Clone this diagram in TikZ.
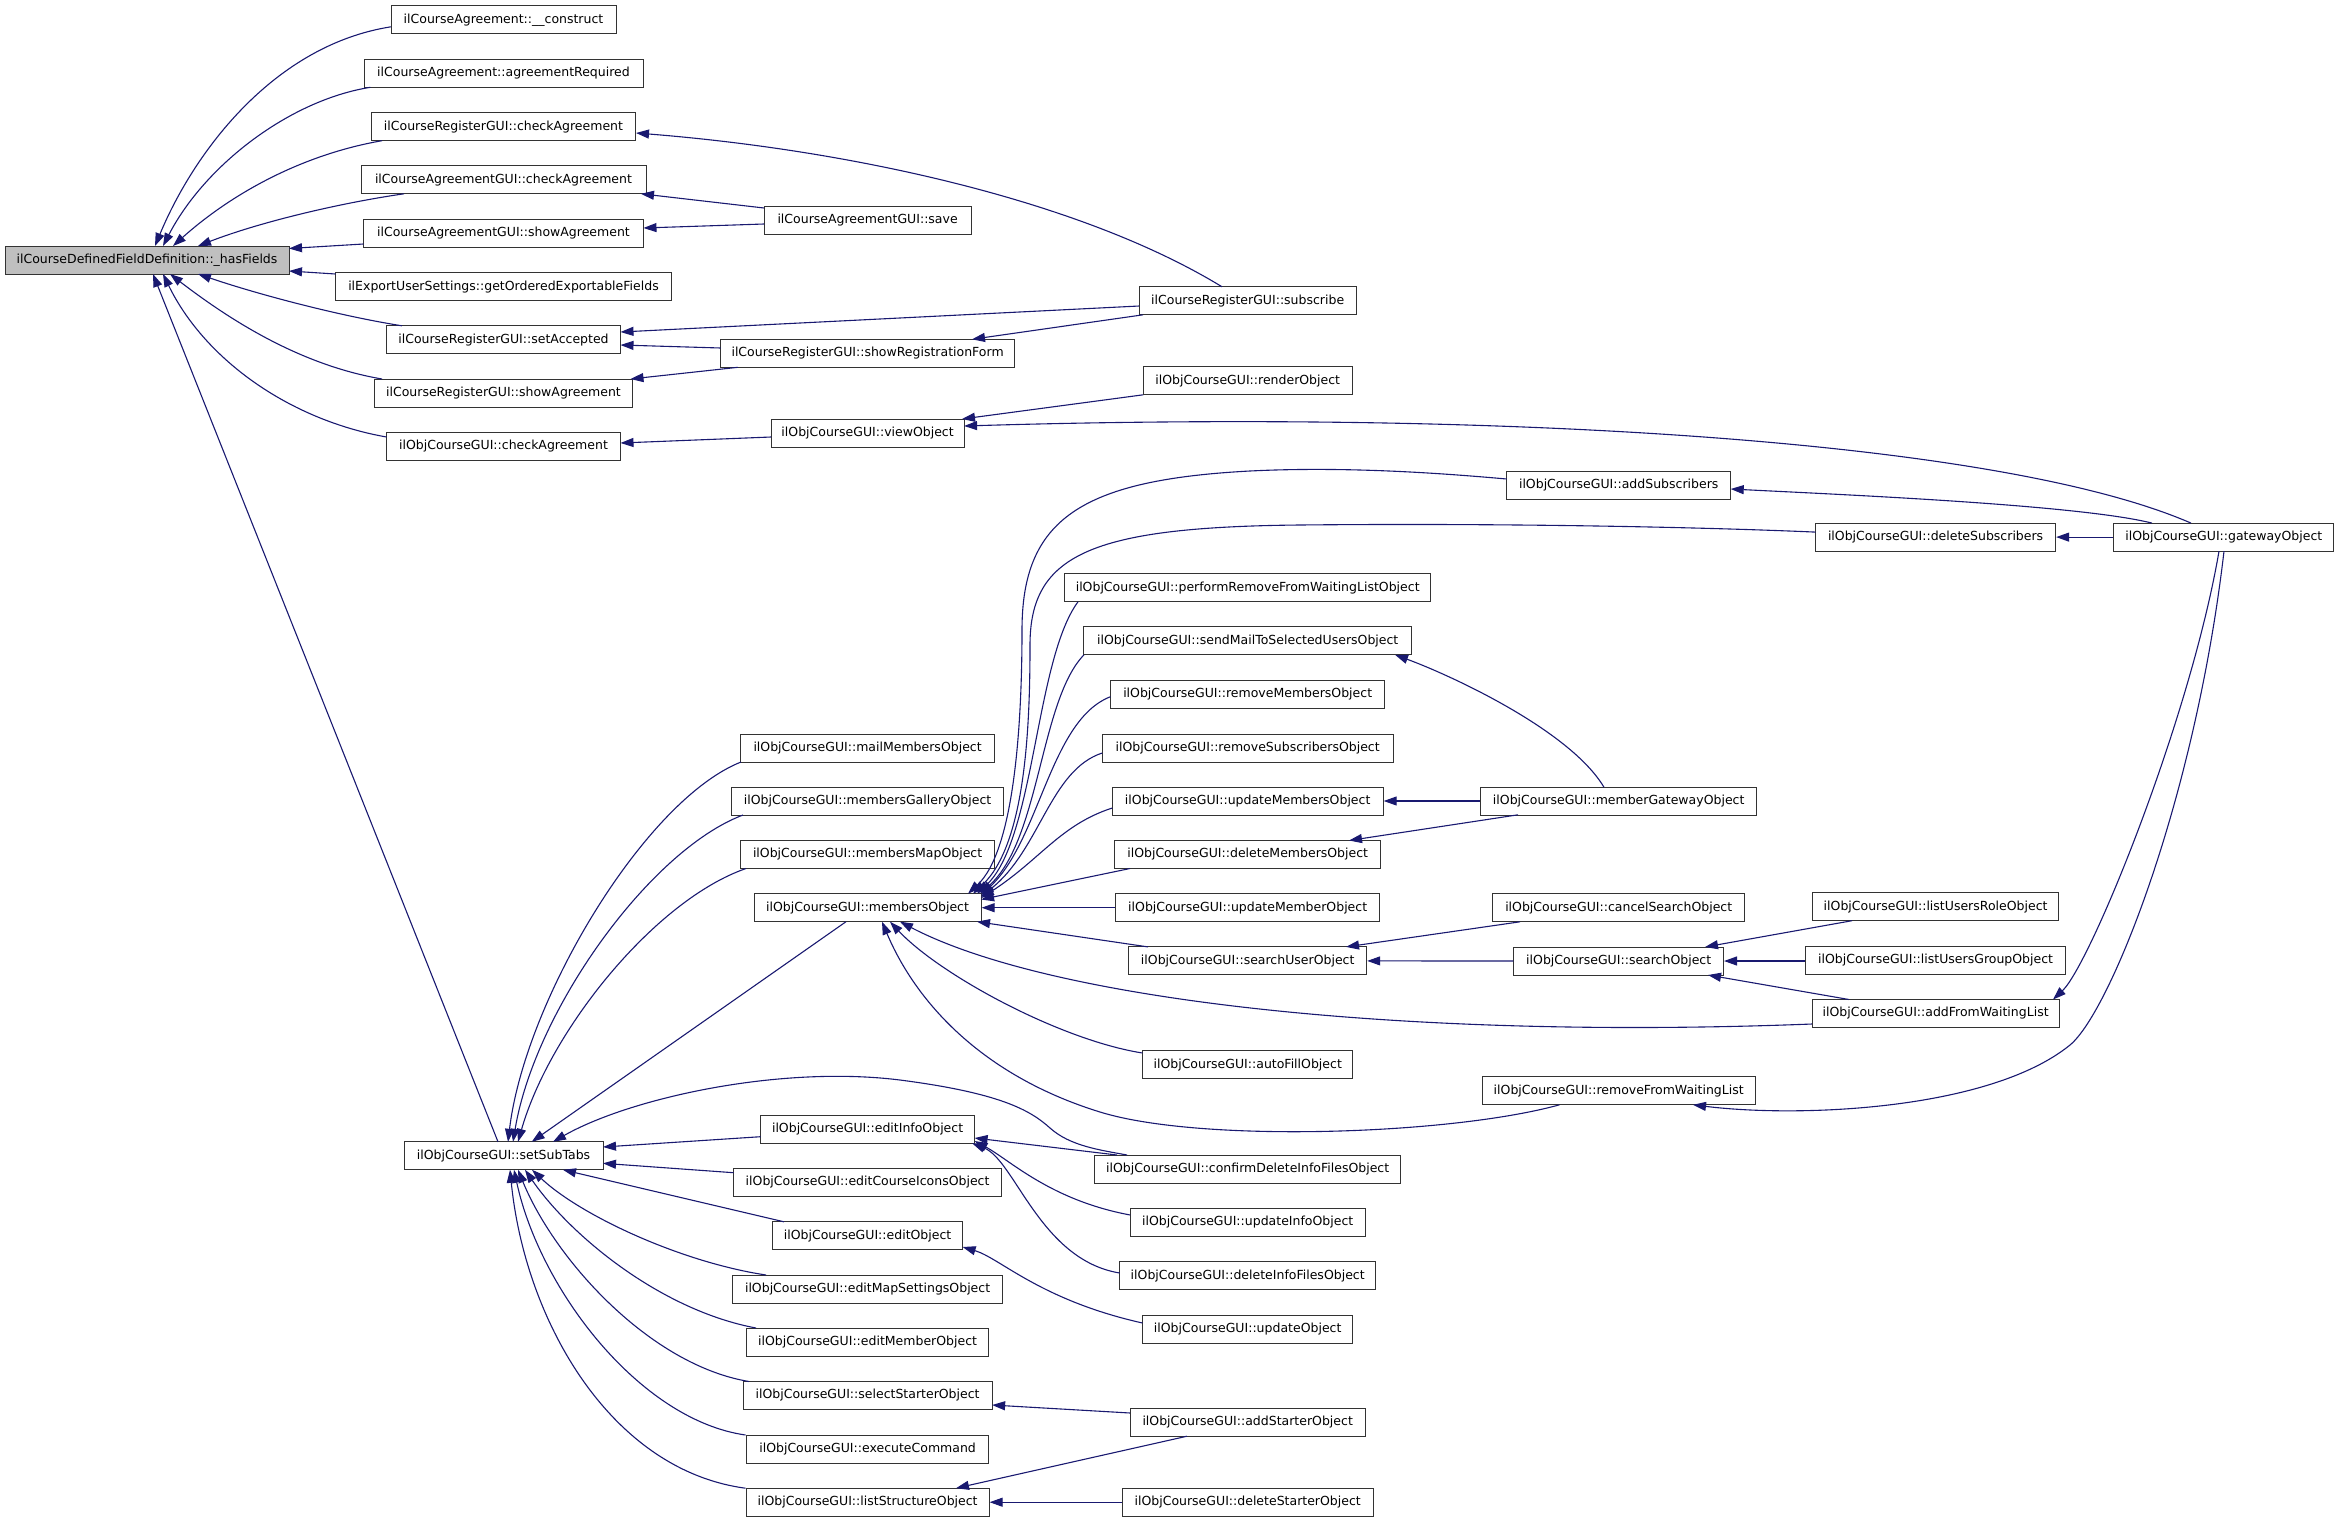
\documentclass[tikz,border=0pt]{standalone}
\usepackage{fontspec}
\setmainfont{DejaVu Sans}
\usetikzlibrary{arrows.meta}
\definecolor{edgecol}{HTML}{191970}
\definecolor{hfgray}{HTML}{BFBFBF}
\begin{document}
\begin{tikzpicture}[x=1pt,y=-1pt,
  fn/.style={draw=black!80, line width=1pt, fill=white, minimum height=28pt, inner sep=0pt,
    font=\fontsize{12.5}{15}\selectfont, text height=9.3pt, text depth=2.6pt},
  edge/.style={draw=edgecol, line width=1.1pt, {Triangle[length=13pt,width=9pt]}-}]
\useasboundingbox (0,0) rectangle (2339,1523);

% ---------- nodes ----------
\node[fn, minimum width=284pt, fill=hfgray] (hf) at (147,260) {ilCourseDefinedFieldDefinition::\_hasFields};

\node[fn, minimum width=225pt] (c1) at (503.5,19.8) {ilCourseAgreement::\_\_construct};
\node[fn, minimum width=279pt] (c2) at (503.5,73.3) {ilCourseAgreement::agreementRequired};
\node[fn, minimum width=264pt] (c3) at (503.5,126.7) {ilCourseRegisterGUI::checkAgreement};
\node[fn, minimum width=285pt] (c4) at (503.5,179.8) {ilCourseAgreementGUI::checkAgreement};
\node[fn, minimum width=280pt] (c5) at (503.5,233.2) {ilCourseAgreementGUI::showAgreement};
\node[fn, minimum width=336pt] (c6) at (503.5,286.7) {ilExportUserSettings::getOrderedExportableFields};
\node[fn, minimum width=234pt] (c7) at (503.5,339.8) {ilCourseRegisterGUI::setAccepted};
\node[fn, minimum width=258pt] (c8) at (503.5,393) {ilCourseRegisterGUI::showAgreement};
\node[fn, minimum width=234pt] (c9) at (503.5,446.3) {ilObjCourseGUI::checkAgreement};
\node[fn, minimum width=199pt] (sst) at (503.5,1155.8) {ilObjCourseGUI::setSubTabs};

\node[fn, minimum width=207pt] (save) at (867.6,220) {ilCourseAgreementGUI::save};
\node[fn, minimum width=294pt] (srf) at (867.6,353.3) {ilCourseRegisterGUI::showRegistrationForm};
\node[fn, minimum width=193pt] (vo) at (867.6,433) {ilObjCourseGUI::viewObject};
\node[fn, minimum width=254pt] (mm) at (867.6,748) {ilObjCourseGUI::mailMembersObject};
\node[fn, minimum width=271.5pt] (mg) at (867.6,801) {ilObjCourseGUI::membersGalleryObject};
\node[fn, minimum width=254pt] (mp) at (867.6,854.5) {ilObjCourseGUI::membersMapObject};
\node[fn, minimum width=227pt] (mo) at (867.6,907.7) {ilObjCourseGUI::membersObject};
\node[fn, minimum width=214pt] (ei) at (867.6,1129.2) {ilObjCourseGUI::editInfoObject};
\node[fn, minimum width=268pt] (eci) at (867.6,1182.5) {ilObjCourseGUI::editCourseIconsObject};
\node[fn, minimum width=190pt] (eo) at (867.6,1235.8) {ilObjCourseGUI::editObject};
\node[fn, minimum width=270pt] (ems) at (867.6,1289) {ilObjCourseGUI::editMapSettingsObject};
\node[fn, minimum width=242pt] (em) at (867.6,1342) {ilObjCourseGUI::editMemberObject};
\node[fn, minimum width=249pt] (ss) at (867.6,1395.5) {ilObjCourseGUI::selectStarterObject};
\node[fn, minimum width=242pt] (ec) at (867.6,1449) {ilObjCourseGUI::executeCommand};
\node[fn, minimum width=243pt] (ls) at (867.6,1502.2) {ilObjCourseGUI::listStructureObject};

\node[fn, minimum width=217pt] (sub) at (1247.7,300.8) {ilCourseRegisterGUI::subscribe};
\node[fn, minimum width=209pt] (ro) at (1247.7,380.8) {ilObjCourseGUI::renderObject};
\node[fn, minimum width=366pt] (pr) at (1247.7,587.8) {ilObjCourseGUI::performRemoveFromWaitingListObject};
\node[fn, minimum width=328pt] (sm) at (1247.7,640.8) {ilObjCourseGUI::sendMailToSelectedUsersObject};
\node[fn, minimum width=274.5pt] (rm) at (1247.7,694.4) {ilObjCourseGUI::removeMembersObject};
\node[fn, minimum width=291pt] (rs) at (1247.7,748) {ilObjCourseGUI::removeSubscribersObject};
\node[fn, minimum width=271pt] (ums) at (1247.7,801) {ilObjCourseGUI::updateMembersObject};
\node[fn, minimum width=266.5pt] (dm) at (1247.7,854.5) {ilObjCourseGUI::deleteMembersObject};
\node[fn, minimum width=264pt] (ume) at (1247.7,907.7) {ilObjCourseGUI::updateMemberObject};
\node[fn, minimum width=238pt] (su) at (1247.7,960.9) {ilObjCourseGUI::searchUserObject};
\node[fn, minimum width=210.5pt] (af) at (1247.7,1064.8) {ilObjCourseGUI::autoFillObject};
\node[fn, minimum width=306pt] (cd) at (1247.7,1169) {ilObjCourseGUI::confirmDeleteInfoFilesObject};
\node[fn, minimum width=235pt] (ui) at (1247.7,1222.5) {ilObjCourseGUI::updateInfoObject};
\node[fn, minimum width=256pt] (dif) at (1247.7,1275.8) {ilObjCourseGUI::deleteInfoFilesObject};
\node[fn, minimum width=210.5pt] (uo) at (1247.7,1329) {ilObjCourseGUI::updateObject};
\node[fn, minimum width=235pt] (ast) at (1247.7,1422.2) {ilObjCourseGUI::addStarterObject};
\node[fn, minimum width=251pt] (dst) at (1247.7,1502.2) {ilObjCourseGUI::deleteStarterObject};

\node[fn, minimum width=224pt] (as) at (1618.7,485) {ilObjCourseGUI::addSubscribers};
\node[fn, minimum width=275.5pt] (mgw) at (1618.7,801) {ilObjCourseGUI::memberGatewayObject};
\node[fn, minimum width=251.5pt] (cs) at (1618.7,907.8) {ilObjCourseGUI::cancelSearchObject};
\node[fn, minimum width=209.6pt] (so) at (1618.7,961) {ilObjCourseGUI::searchObject};
\node[fn, minimum width=273pt] (rfw) at (1618.7,1090.8) {ilObjCourseGUI::removeFromWaitingList};

\node[fn, minimum width=240pt] (ds) at (1935.6,537.1) {ilObjCourseGUI::deleteSubscribers};
\node[fn, minimum width=246pt] (lur) at (1935.6,906.7) {ilObjCourseGUI::listUsersRoleObject};
\node[fn, minimum width=260pt] (lug) at (1935.6,960) {ilObjCourseGUI::listUsersGroupObject};
\node[fn, minimum width=247pt] (afw) at (1935.6,1013.5) {ilObjCourseGUI::addFromWaitingList};

\node[fn, minimum width=220pt] (gw) at (2223.8,537.1) {ilObjCourseGUI::gatewayObject};

% ---------- edges into hasFields ----------
\draw[edge] ([shift={(8,-14)}]hf.center) .. controls (195,150) and (275,45) .. ([shift={(-112.5,7)}]c1.center);
\draw[edge] ([shift={(16,-14)}]hf.center) .. controls (205,165) and (290,100) .. ([shift={(-133,14)}]c2.center);
\draw[edge] ([shift={(26,-14)}]hf.center) .. controls (230,195) and (300,155) .. ([shift={(-121.5,14)}]c3.center);
\draw[edge] ([shift={(51,-14)}]hf.center) .. controls (260,222) and (340,203) .. ([shift={(-99.5,14)}]c4.center);
\draw[edge] ([shift={(142,-11.5)}]hf.center) -- ([shift={(-140,10.8)}]c5.center);
\draw[edge] ([shift={(142,11)}]hf.center) -- ([shift={(-168,-12.7)}]c6.center);
\draw[edge] ([shift={(51,14)}]hf.center) .. controls (260,295) and (340,316) .. ([shift={(-101.5,-14)}]c7.center);
\draw[edge] ([shift={(23,14)}]hf.center) .. controls (230,320) and (300,365) .. ([shift={(-121.5,-14)}]c8.center);
\draw[edge] ([shift={(16,14)}]hf.center) .. controls (205,360) and (290,420) .. ([shift={(-117,-9.3)}]c9.center);
\draw[edge] ([shift={(6,14)}]hf.center) -- ([shift={(-5.5,-14)}]sst.center);

% ---------- column 1 <- column 2/3 ----------
\draw[edge] ([shift={(132.5,6.3)}]c3.center) .. controls (850,150) and (1080,200) .. ([shift={(-25.7,-14)}]sub.center);
\draw[edge] ([shift={(137.5,14)}]c4.center) -- ([shift={(-103.6,-12)}]save.center);
\draw[edge] ([shift={(140,-5.2)}]c5.center) -- ([shift={(-103.5,4)}]save.center);
\draw[edge] ([shift={(117,-7.8)}]c7.center) -- ([shift={(-108.5,5.2)}]sub.center);
\draw[edge] ([shift={(117,5.2)}]c7.center) -- ([shift={(-147,-5.3)}]srf.center);
\draw[edge] ([shift={(104.4,-14)}]srf.center) -- ([shift={(-104.7,14)}]sub.center);
\draw[edge] ([shift={(127,-14)}]c8.center) -- ([shift={(-129.6,14)}]srf.center);
\draw[edge] ([shift={(117,-3.3)}]c9.center) -- ([shift={(-96.5,4)}]vo.center);
\draw[edge] ([shift={(94.4,-14)}]vo.center) -- ([shift={(-104.5,14)}]ro.center);
\draw[edge] ([shift={(96.5,-7)}]vo.center) .. controls (1500,410) and (2000,440) .. ([shift={(-32.8,-14)}]gw.center);

% ---------- gatewayObject ----------
\draw[edge] ([shift={(112,4)}]as.center) .. controls (1850,495) and (2080,505) .. ([shift={(-71.8,-14)}]gw.center);
\draw[edge] (ds.east) -- (gw.west);
\draw[edge] ([shift={(117.4,-14)}]afw.center) .. controls (2090,965) and (2190,720) .. ([shift={(-4.8,14)}]gw.center);
\draw[edge] ([shift={(74.3,14)}]rfw.center) .. controls (1800,1118) and (1990,1110) .. (2070,1045) .. controls (2110,1012) and (2195,800) .. ([shift={(0.2,14)}]gw.center);

% ---------- membersObject fan ----------
\draw[edge] ([shift={(100.4,-14)}]mo.center) .. controls (1015,850) and (1022,720) .. (1022,630) .. controls (1022,520) and (1080,480) .. (1250,471) .. controls (1350,466) and (1450,474) .. ([shift={(-112,-6)}]as.center);
\draw[edge] ([shift={(105.4,-14)}]mo.center) .. controls (1025,845) and (1030,730) .. (1030,645) .. controls (1030,555) and (1090,527) .. (1300,525) .. controls (1500,523) and (1700,527) .. ([shift={(-120,-5)}]ds.center);
\draw[edge] ([shift={(109.4,-14)}]mo.center) .. controls (1035,840) and (1035,660) .. ([shift={(-169.7,14)}]pr.center);
\draw[edge] ([shift={(112.4,-14)}]mo.center) .. controls (1040,840) and (1040,700) .. ([shift={(-163.7,14)}]sm.center);
\draw[edge] ([shift={(113.5,-12.7)}]mo.center) .. controls (1040,840) and (1050,720) .. ([shift={(-137.2,2.3)}]rm.center);
\draw[edge] ([shift={(113.5,-11.2)}]mo.center) .. controls (1040,850) and (1050,770) .. ([shift={(-145.5,5)}]rs.center);
\draw[edge] ([shift={(113.5,-9.7)}]mo.center) .. controls (1040,860) and (1060,825) .. ([shift={(-135.5,7)}]ums.center);
\draw[edge] ([shift={(113.5,-8.2)}]mo.center) -- ([shift={(-117.7,14)}]dm.center);
\draw[edge] (mo.east) -- (ume.west);
\draw[edge] ([shift={(109.4,14)}]mo.center) -- ([shift={(-99.7,-14)}]su.center);
\draw[edge] ([shift={(32.4,14)}]mo.center) .. controls (1050,1000) and (1400,1040) .. ([shift={(-123.5,10.5)}]afw.center);
\draw[edge] ([shift={(22.4,14)}]mo.center) .. controls (940,975) and (1060,1040) .. ([shift={(-105.25,-11.8)}]af.center);
\draw[edge] ([shift={(14.4,14)}]mo.center) .. controls (915,1000) and (980,1075) .. (1100,1112) .. controls (1200,1143) and (1450,1135) .. ([shift={(-59.2,14)}]rfw.center);

% ---------- setSubTabs fan ----------
\draw[edge] ([shift={(4.5,-14)}]sst.center) .. controls (525,1000) and (645,800) .. ([shift={(-126.6,14)}]mm.center);
\draw[edge] ([shift={(9.5,-14)}]sst.center) .. controls (535,1010) and (650,850) .. ([shift={(-124.6,14)}]mg.center);
\draw[edge] ([shift={(14.5,-14)}]sst.center) .. controls (550,1030) and (655,900) .. ([shift={(-121.6,14)}]mp.center);
\draw[edge] ([shift={(28.2,-14)}]sst.center) -- ([shift={(-21.6,14)}]mo.center);
\draw[edge] ([shift={(49.5,-14)}]sst.center) .. controls (630,1098) and (780,1065) .. (900,1080) .. controls (1000,1093) and (1030,1110) .. (1050,1128) .. controls (1070,1146) and (1100,1150) .. ([shift={(-120.7,-14)}]cd.center);
\draw[edge] ([shift={(99.5,-8.8)}]sst.center) -- ([shift={(-107,7.5)}]ei.center);
\draw[edge] ([shift={(99.5,7.5)}]sst.center) -- ([shift={(-134,-9.8)}]eci.center);
\draw[edge] ([shift={(59.5,14)}]sst.center) -- ([shift={(-83.6,-14)}]eo.center);
\draw[edge] ([shift={(28.5,14)}]sst.center) .. controls (580,1215) and (680,1262) .. ([shift={(-101.6,-14)}]ems.center);
\draw[edge] ([shift={(21.5,14)}]sst.center) .. controls (570,1235) and (660,1310) .. ([shift={(-111.6,-14)}]em.center);
\draw[edge] ([shift={(14.5,14)}]sst.center) .. controls (555,1260) and (650,1365) .. ([shift={(-118.6,-14)}]ss.center);
\draw[edge] ([shift={(10.5,14)}]sst.center) .. controls (540,1290) and (640,1420) .. ([shift={(-122.1,-14)}]ec.center);
\draw[edge] ([shift={(6.5,14)}]sst.center) .. controls (525,1320) and (610,1470) .. ([shift={(-122.1,-14)}]ls.center);

% ---------- editInfo / editObject / starters ----------
\draw[edge] ([shift={(107,8.8)}]ei.center) -- ([shift={(-130.7,-14)}]cd.center);
\draw[edge] ([shift={(107,11.8)}]ei.center) .. controls (1010,1160) and (1050,1200) .. ([shift={(-117.5,-7.5)}]ui.center);
\draw[edge] ([shift={(104.4,14)}]ei.center) .. controls (1015,1160) and (1040,1260) .. ([shift={(-128,-2.8)}]dif.center);
\draw[edge] ([shift={(95,11.2)}]eo.center) .. controls (1000,1258) and (1040,1300) .. ([shift={(-105.25,-6)}]uo.center);
\draw[edge] ([shift={(124.5,9.5)}]ss.center) -- ([shift={(-117.5,-9.2)}]ast.center);
\draw[edge] ([shift={(88.4,-14)}]ls.center) -- ([shift={(-60.7,14)}]ast.center);
\draw[edge] (ls.east) -- (dst.west);

% ---------- columns 3 <- 4 <- 5 ----------
\draw[edge] ([shift={(147.3,14)}]sm.center) .. controls (1450,675) and (1570,730) .. ([shift={(-14.7,-13.7)}]mgw.center);
\draw[edge] (ums.east) -- (mgw.west);
\draw[edge] ([shift={(101.3,-14)}]dm.center) -- ([shift={(-100.7,13.8)}]mgw.center);
\draw[edge] ([shift={(98.3,-14)}]su.center) -- ([shift={(-98.7,14)}]cs.center);
\draw[edge] (su.east) -- (so.west);
\draw[edge] ([shift={(86.3,-14)}]so.center) -- ([shift={(-83.6,14)}]lur.center);
\draw[edge] (so.east) -- (so.east -| lug.west);
\draw[edge] ([shift={(89.3,14)}]so.center) -- ([shift={(-86.6,-14)}]afw.center);
\end{tikzpicture}
\end{document}
